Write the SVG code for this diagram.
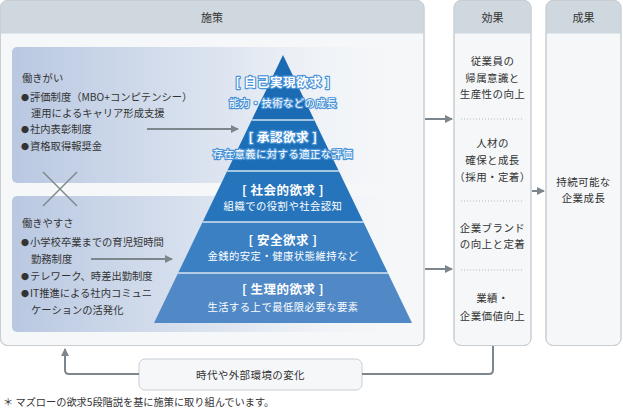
<svg xmlns="http://www.w3.org/2000/svg" width="623" height="411" viewBox="0 0 623 411">
<style>
text{font-family:"Noto Sans CJK JP","Noto Sans",sans-serif;fill:#333;}
.hd{font-size:11px;text-anchor:middle;}
.lt{font-size:10.3px;}
.bl{font-size:8px;}
.ef{font-size:10.5px;text-anchor:middle;letter-spacing:0.4px;}
.pt{font-size:12.5px;font-weight:bold;fill:#fff;text-anchor:middle;letter-spacing:0.5px;}
.ps{font-size:10.3px;fill:#fff;text-anchor:middle;letter-spacing:0.5px;}
.glow{stroke:#4a93d6;stroke-width:2.4px;paint-order:stroke;stroke-linejoin:round;}
.box{fill:#f5f7f9;stroke:#c9ced3;stroke-width:1;}
.hdr{fill:#cfd8de;}
.conn{fill:none;stroke:#7d868c;stroke-width:2;}
.dot{stroke:#b5bbc0;stroke-width:1;stroke-dasharray:1 2;}
.sep{stroke:#ffffff;stroke-width:1.5;opacity:0.8;}
</style>
<defs>
<linearGradient id="pg" x1="0" y1="0" x2="1" y2="0">
<stop offset="0" stop-color="#b9c8e1"/>
<stop offset="0.55" stop-color="#dfe6f1"/>
<stop offset="1" stop-color="#f5f7f9" stop-opacity="0"/>
</linearGradient>
<marker id="ah" viewBox="0 0 8 8" refX="7" refY="4" markerWidth="4" markerHeight="4" orient="auto" markerUnits="strokeWidth">
<path d="M0,0 L8,4 L0,8 z" fill="#7d868c"/>
</marker>
<clipPath id="c1"><rect x="0.5" y="0.5" width="423.5" height="345" rx="7"/></clipPath>
<clipPath id="c2"><rect x="454" y="0.5" width="77" height="345" rx="7"/></clipPath>
<clipPath id="c3"><rect x="546" y="0.5" width="75" height="345" rx="7"/></clipPath>
</defs>

<g id="shisaku">
<rect class="box" x="0.5" y="0.5" width="423.5" height="345" rx="7"/>
<rect class="hdr" x="0.5" y="0.5" width="423.5" height="33" clip-path="url(#c1)"/>
<rect x="0.5" y="0.5" width="423.5" height="345" rx="7" fill="none" stroke="#c9ced3"/>
<text class="hd" x="212" y="22">施策</text>
</g>

<g id="kouka">
<rect class="box" x="454" y="0.5" width="77" height="345" rx="7"/>
<rect class="hdr" x="454" y="0.5" width="77" height="33" clip-path="url(#c2)"/>
<rect x="454" y="0.5" width="77" height="345" rx="7" fill="none" stroke="#c9ced3"/>
<text class="hd" x="492.5" y="22">効果</text>
<text class="ef" x="492.5" y="65">従業員の</text>
<text class="ef" x="492.5" y="82">帰属意識と</text>
<text class="ef" x="492.5" y="98">生産性の向上</text>
<line class="dot" x1="461" y1="119" x2="524" y2="119"/>
<text class="ef" x="492.5" y="147">人材の</text>
<text class="ef" x="492.5" y="164">確保と成長</text>
<text class="ef" x="492.5" y="181">（採用・定着）</text>
<line class="dot" x1="461" y1="201" x2="524" y2="201"/>
<text class="ef" x="492.5" y="232">企業ブランド</text>
<text class="ef" x="492.5" y="248">の向上と定着</text>
<line class="dot" x1="461" y1="270" x2="524" y2="270"/>
<text class="ef" x="492.5" y="302">業績・</text>
<text class="ef" x="492.5" y="320">企業価値向上</text>
</g>

<g id="seika">
<rect class="box" x="546" y="0.5" width="75" height="345" rx="7"/>
<rect class="hdr" x="546" y="0.5" width="75" height="33" clip-path="url(#c3)"/>
<rect x="546" y="0.5" width="75" height="345" rx="7" fill="none" stroke="#c9ced3"/>
<text class="hd" x="583.5" y="22">成果</text>
<text class="ef" x="583.5" y="186">持続可能な</text>
<text class="ef" x="583.5" y="202">企業成長</text>
</g>

<g id="hatarakigai">
<rect x="12" y="47" width="400" height="136" rx="5" fill="url(#pg)"/>
<text class="lt" x="22" y="82">働きがい</text>
<text class="lt" x="21" y="101"><tspan class="bl">●</tspan><tspan x="30">評価制度（MBO+コンピテンシー）</tspan></text>
<text class="lt" x="31" y="117">運用によるキャリア形成支援</text>
<text class="lt" x="21" y="133"><tspan class="bl">●</tspan><tspan x="30">社内表彰制度</tspan></text>
<text class="lt" x="21" y="150"><tspan class="bl">●</tspan><tspan x="30">資格取得報奨金</tspan></text>
</g>

<g id="hatarakiyasusa">
<rect x="12" y="196" width="400" height="136" rx="5" fill="url(#pg)"/>
<text class="lt" x="22" y="227">働きやすさ</text>
<text class="lt" x="21" y="246"><tspan class="bl">●</tspan><tspan x="30">小学校卒業までの育児短時間</tspan></text>
<text class="lt" x="31" y="263">勤務制度</text>
<text class="lt" x="21" y="280"><tspan class="bl">●</tspan><tspan x="30">テレワーク、時差出勤制度</tspan></text>
<text class="lt" x="21" y="297"><tspan class="bl">●</tspan><tspan x="30">IT推進による社内コミュニ</tspan></text>
<text class="lt" x="31" y="314">ケーションの活発化</text>
</g>

<g id="cross">
<line x1="43" y1="172" x2="77" y2="206" stroke="#80878c" stroke-width="1.5"/>
<line x1="77" y1="172" x2="43" y2="206" stroke="#80878c" stroke-width="1.5"/>
</g>

<g id="pyramid">
<polygon points="283,55 314.3,120 251.7,120" fill="#1a6bb3"/>
<polygon points="251.7,120 314.3,120 338.8,171 227.2,171" fill="#1c6fb7"/>
<polygon points="227.2,171 338.8,171 363.4,222 202.6,222" fill="#2675bc"/>
<polygon points="202.6,222 363.4,222 387.9,273 178.1,273" fill="#3a80c3"/>
<polygon points="178.1,273 387.9,273 412,323 154,323" fill="#5189c7"/>
<line class="sep" x1="251.7" y1="120" x2="314.3" y2="120"/>
<line class="sep" x1="227.2" y1="171" x2="338.8" y2="171"/>
<line class="sep" x1="202.6" y1="222" x2="363.4" y2="222"/>
<line class="sep" x1="178.1" y1="273" x2="387.9" y2="273"/>
<text class="pt glow" x="283" y="87">[ 自己実現欲求 ]</text>
<text class="ps glow" x="283" y="107">能力・技術などの成長</text>
<text class="pt glow" x="283" y="142">[ 承認欲求 ]</text>
<text class="ps glow" x="283" y="158">存在意義に対する適正な評価</text>
<text class="pt" x="283" y="195">[ 社会的欲求 ]</text>
<text class="ps" x="283" y="210">組織での役割や社会認知</text>
<text class="pt" x="283" y="245">[ 安全欲求 ]</text>
<text class="ps" x="283" y="260">金銭的安定・健康状態維持など</text>
<text class="pt" x="283" y="294">[ 生理的欲求 ]</text>
<text class="ps" x="283" y="311">生活する上で最低限必要な要素</text>
</g>

<g id="change">
<rect x="139" y="359" width="223" height="31" rx="6" fill="#f5f7f9" stroke="#c9ced3"/>
<text class="ef" x="250.5" y="379">時代や外部環境の変化</text>
</g>

<g id="connectors">
<line class="conn" x1="147" y1="129" x2="238" y2="129" marker-end="url(#ah)"/>
<line class="conn" x1="91" y1="259" x2="172" y2="259" marker-end="url(#ah)"/>
<line class="conn" x1="425" y1="119" x2="452" y2="119" marker-end="url(#ah)"/>
<line class="conn" x1="425" y1="269" x2="452" y2="269" marker-end="url(#ah)"/>
<line class="conn" x1="532" y1="191" x2="544" y2="191" marker-end="url(#ah)"/>
<path class="conn" d="M493,346 V370 Q493,374 489,374 H362"/>
<path class="conn" d="M139,374 H69 Q65,374 65,370 V349" marker-end="url(#ah)"/>
</g>

<text x="3" y="406" style="font-size:10.2px;">＊ マズローの欲求5段階説を基に施策に取り組んでいます。</text>
</svg>
